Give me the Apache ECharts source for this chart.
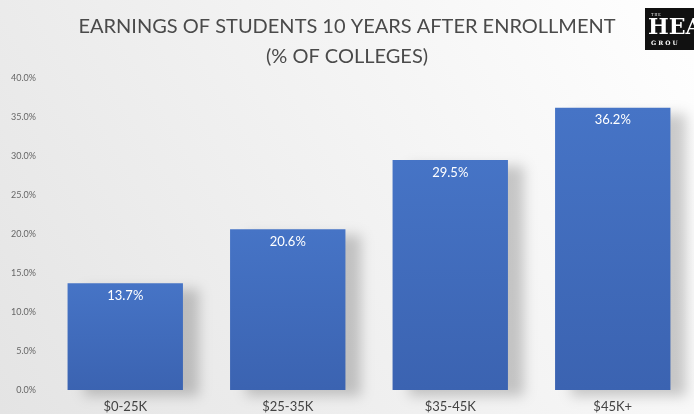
<!DOCTYPE html>
<html><head><meta charset="utf-8">
<script src="https://cdn.jsdelivr.net/npm/echarts@6/dist/echarts.min.js"></script>
<style>html,body{margin:0;padding:0;background:#fff}#c{width:694px;height:414px}</style>
</head><body><div id="c"></div>
<script>
const categories = ['$0-25K', '$25-35K', '$35-45K', '$45K+'];
const values = [13.7, 20.6, 29.5, 36.2];
const yTicks = { min: 0, max: 40, interval: 5 };
const titleText = 'EARNINGS OF STUDENTS 10 YEARS AFTER ENROLLMENT\n(% OF COLLEGES)';

const chart = echarts.init(document.getElementById('c'), null, { renderer: 'canvas' });
chart.setOption({
  backgroundColor: new echarts.graphic.LinearGradient(1, 0, 0, 1, [
    { offset: 0, color: '#ffffff' },
    { offset: 1, color: '#e4e4e4' }
  ]),
  title: {
    text: titleText,
    left: 'center',
    top: 7,
    textStyle: { fontFamily: 'Lato', fontWeight: 'normal', fontSize: 20, color: '#4a4a4a', lineHeight: 30 }
  },
  graphic: [
    { type: 'rect', shape: { x: 645, y: 8, width: 60, height: 42 }, style: { fill: '#111' } },
    { type: 'text', x: 651, y: 13, style: { text: 'T H E', fill: '#fff', font: '4px serif' } },
    { type: 'text', x: 648, y: 17, style: { text: 'HEA', fill: '#fff', font: 'bold 22px "DejaVu Serif"' } },
    { type: 'text', x: 651, y: 40, style: { text: 'G R O U', fill: '#fff', font: 'bold 6px "DejaVu Serif"' } }
  ],
  grid: { left: 44, right: 0, top: 78, bottom: 24, containLabel: false },
  xAxis: {
    type: 'category',
    data: categories,
    axisLine: { show: false },
    axisTick: { show: false },
    axisLabel: { color: '#444', fontFamily: 'Lato', fontSize: 13, margin: 10 }
  },
  yAxis: {
    type: 'value',
    min: yTicks.min, max: yTicks.max, interval: yTicks.interval,
    splitLine: { show: false },
    axisLine: { show: false },
    axisTick: { show: false },
    axisLabel: { color: '#666', fontFamily: 'Lato', fontSize: 9, margin: 8,
      formatter: v => v.toFixed(1) + '%' }
  },
  series: [{
    type: 'bar',
    data: values,
    barCategoryGap: '29%',
    itemStyle: {
      color: new echarts.graphic.LinearGradient(0, 0, 0, 1, [
        { offset: 0, color: '#4674c6' },
        { offset: 1, color: '#3b63b1' }
      ]),
      shadowColor: 'rgba(0,0,0,0.2)',
      shadowBlur: 12,
      shadowOffsetX: 16,
      shadowOffsetY: 6
    },
    label: {
      show: true,
      position: 'insideTop',
      distance: 6,
      color: '#fff',
      fontFamily: 'Lato',
      fontSize: 13,
      formatter: p => p.value.toFixed(1) + '%'
    }
  }]
});
</script>
</body></html>
